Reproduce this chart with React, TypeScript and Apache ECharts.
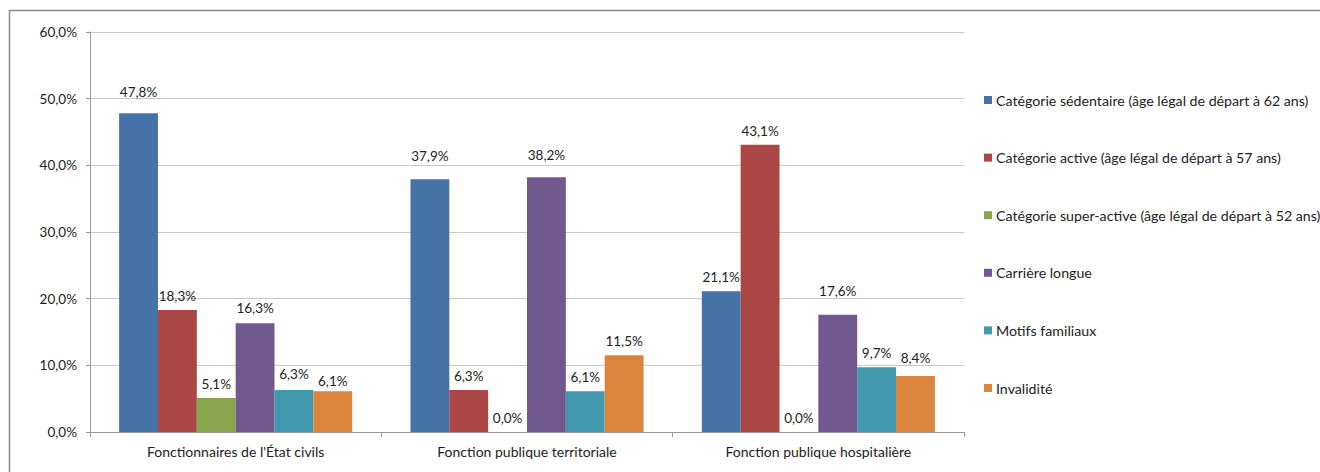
import React, { useEffect, useRef } from "react";
import * as echarts from "echarts";

const categories = [
  "Fonctionnaires de l'État civils",
  "Fonction publique territoriale",
  "Fonction publique hospitalière",
];
const seriesNames = [
  "Catégorie sédentaire (âge légal de départ à 62 ans)",
  "Catégorie active (âge légal de départ à 57 ans)",
  "Catégorie super-active (âge légal de départ à 52 ans)",
  "Carrière longue",
  "Motifs familiaux",
  "Invalidité",
];
const sedentaire = [47.8, 37.9, 21.1];
const active = [18.3, 6.3, 43.1];
const superActive = [5.1, 0.0, 0.0];
const carriereLongue = [16.3, 38.2, 17.6];
const motifsFamiliaux = [6.3, 6.1, 9.7];
const invalidite = [6.1, 11.5, 8.4];
const colors = ["#4572A7", "#AA4643", "#89A54E", "#71588F", "#4198AF", "#DB843D"];

// extra vertical lift (px) of some value labels, as hand-placed in the original
const labelLift = [
  [7, 9, 0],
  [0, 0, 0],
  [0, 0, 0],
  [1, 8, 10],
  [2, 0, 0],
  [-4, 0, 4],
];

const FONT = "Lato";

export default function App() {
  const ref = useRef<HTMLDivElement>(null);
  useEffect(() => {
    if (!ref.current) return;
    const chart = echarts.init(ref.current, null, { renderer: "svg" });
    const all = [sedentaire, active, superActive, carriereLongue, motifsFamiliaux, invalidite];
    const fmt = (v: number) => v.toFixed(1).replace(".", ",") + "%";
    chart.setOption({
      animation: false,
      color: colors,
      textStyle: { fontFamily: FONT },
      grid: { left: 90, right: 356, top: 32, bottom: 40 },
      graphic: [
        {
          type: "rect",
          shape: { x: 9.5, y: 10.5, width: 1400, height: 600 },
          style: { fill: "none", stroke: "#8a8a8a", lineWidth: 1.5 },
          silent: true,
        },
      ],
      legend: {
        orient: "vertical",
        left: 984,
        top: 93,
        padding: 0,
        itemWidth: 8,
        itemHeight: 8,
        itemGap: 43.6,
        icon: "rect",
        data: seriesNames,
        textStyle: { fontFamily: FONT, fontSize: 14.2, color: "#222", padding: [0, 0, 0, -1] },
      },
      xAxis: {
        type: "category",
        data: categories,
        axisLine: { lineStyle: { color: "#999" } },
        axisTick: { show: true, length: 5, lineStyle: { color: "#999" } },
        axisLabel: { fontFamily: FONT, fontSize: 14, color: "#222", margin: 12 },
      },
      yAxis: {
        type: "value",
        min: 0,
        max: 60,
        interval: 10,
        axisLine: { show: true, lineStyle: { color: "#999" } },
        axisTick: { show: true, length: 4, lineStyle: { color: "#999" } },
        splitLine: { lineStyle: { color: "#c8c8c8" } },
        axisLabel: {
          fontFamily: FONT,
          fontSize: 13.5,
          color: "#222",
          margin: 13,
          formatter: (v: number) => fmt(v),
        },
      },
      series: all.map((d, i) => ({
        name: seriesNames[i],
        type: "bar",
        data: d.map((v, j) => ({
          value: v,
          label: { distance: 7 + labelLift[i][j] },
        })),
        barGap: "0%",
        barCategoryGap: "20%",
        label: {
          show: true,
          position: "top",
          distance: 7,
          fontFamily: FONT,
          fontSize: 13.5,
          color: "#222",
          formatter: (p: any) => fmt(p.value),
        },
      })),
    });
    return () => chart.dispose();
  }, []);
  return (
    <div
      ref={ref}
      style={{ position: "fixed", left: 0, top: 0, width: 1320, height: 472, background: "#fff" }}
    />
  );
}
